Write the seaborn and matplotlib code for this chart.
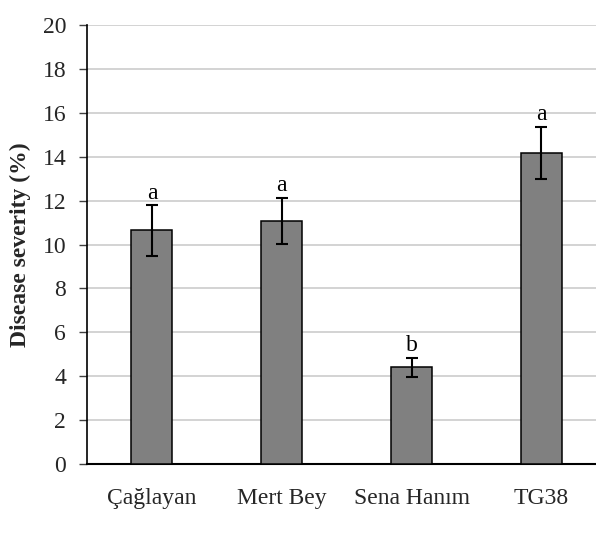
import matplotlib
matplotlib.use("Agg")
import matplotlib.pyplot as plt
import seaborn as sns
import pandas as pd

cultivars = ["Çağlayan", "Mert Bey", "Sena Hanım", "TG38"]
severity = [10.64, 11.07, 4.40, 14.17]
errors = [1.15, 1.05, 0.43, 1.20]
letters = ["a", "a", "b", "a"]
yticks = [0, 2, 4, 6, 8, 10, 12, 14, 16, 18, 20]

sns.set_theme(style="white")
plt.rcParams["font.family"] = ["Liberation Serif", "DejaVu Serif"]

df = pd.DataFrame({"cultivar": cultivars, "severity": severity})

fig = plt.figure(figsize=(5.96, 5.33), dpi=100)
ax = fig.add_axes([0.146, 0.1295, 0.854, 0.8235])

sns.barplot(data=df, x="cultivar", y="severity", color="#808080",
            edgecolor="black", linewidth=1.1, width=0.315, saturation=1,
            errorbar=None, ax=ax, zorder=3)
ax.errorbar(range(len(cultivars)), severity, yerr=errors, fmt="none",
            ecolor="black", elinewidth=1.5, capsize=4.3, capthick=1.5, zorder=4)
for i, (v, e, l) in enumerate(zip(severity, errors, letters)):
    ax.text(i, v + e + 0.3, l, ha="center", va="baseline", fontsize=17, color="black")

ax.set_ylim(0, 20)
ax.set_xlim(-0.5, 3.42)
ax.set_yticks(yticks)
ax.set_yticklabels([str(t) for t in yticks], fontsize=17)
ax.tick_params(axis="y", which="both", left=True, length=6, width=1, color="#404040", pad=9)
ax.tick_params(axis="x", bottom=False, labelsize=17, pad=11)
ax.yaxis.grid(True, color="#d0d0d0", linewidth=1.3, zorder=0)
ax.set_axisbelow(True)
for s in ["top", "right"]:
    ax.spines[s].set_visible(False)
ax.spines["left"].set_color("black")
ax.spines["left"].set_linewidth(1.2)
ax.spines["bottom"].set_color("black")
ax.spines["bottom"].set_linewidth(1.5)
ax.set_xlabel("")
ax.set_ylabel("Disease severity (%)", fontsize=17, fontweight="bold", labelpad=8)

fig.savefig("out.png", dpi=100)
